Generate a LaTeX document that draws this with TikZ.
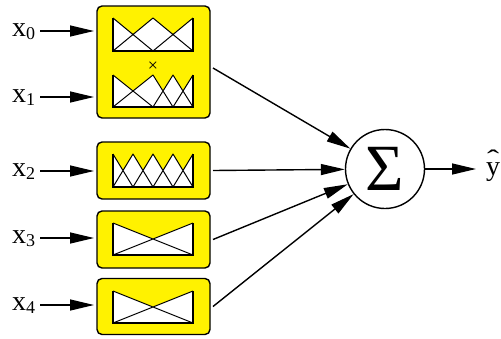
\documentclass[tikz,border=0pt]{standalone}
\usepackage{fontspec}
\setmainfont{Liberation Serif}
\usetikzlibrary{arrows.meta,calc}
\begin{document}
\begin{tikzpicture}[x=1pt,y=-1pt,
  box/.style={draw=black, line width=1.4pt, fill=yellow, rounded corners=5pt, minimum width=113pt, inner sep=0pt, outer sep=0pt},
  arr/.style={line width=1.4pt, -{Triangle[length=24pt,width=11pt]}},
  lab/.style={font=\fontsize{28}{28}\selectfont, inner sep=0pt, anchor=base west},
  mf/.style={line width=1pt, line join=round},
  frame/.style={line width=1.5pt},
  panel/.style={fill=white},
  sumnode/.style={draw, circle, line width=1.4pt, minimum size=79pt, inner sep=0pt, fill=white}
  ]
\useasboundingbox (0,0) rectangle (501,338);
% boxes
\node[box, minimum height=112pt] (bA) at (153.5,62) {};
\node[box, minimum height=57pt] (bB) at (153.5,170.5) {};
\node[box, minimum height=57pt] (bC) at (153.5,239.5) {};
\node[box, minimum height=56pt] (bD) at (153.5,306.5) {};
% panel A top
\fill[panel] (113,51)--(113,18)--(133,34.5)--(153,18)--(173,34.5)--(193,18)--(193,51)--cycle;
\draw[mf] (113,18)--(153,51) (113,51)--(153,18)--(193,51) (153,51)--(193,18);
\draw[frame] (113,18)--(113,51)--(193,51)--(193,18);
% panel A bottom
\fill[panel] (113,107)--(113,75)--(133,91)--(153,75)--(163,91)--(173,75)--(183,91)--(193,75)--(193,107)--cycle;
\draw[mf] (113,75)--(153,107) (113,107)--(153,75)--(173,107) (153,107)--(173,75)--(193,107) (173,107)--(193,75);
\draw[frame] (113,75)--(113,107)--(193,107)--(193,75);
\node[inner sep=0pt, font=\fontsize{18}{18}\selectfont] (cross) at (153,67) {×};
% panel B
\fill[panel] (113,187)--(113,154)--(123,170.5)--(133,154)--(143,170.5)--(153,154)--(163,170.5)--(173,154)--(183,170.5)--(193,154)--(193,187)--cycle;
\draw[mf] (113,154)--(133,187) (113,187)--(133,154)--(153,187) (133,187)--(153,154)--(173,187) (153,187)--(173,154)--(193,187) (173,187)--(193,154);
\draw[frame] (113,154)--(113,187)--(193,187)--(193,154);
% panel C
\fill[panel] (113,255)--(113,223)--(153,239)--(193,223)--(193,255)--cycle;
\draw[mf] (113,223)--(193,255) (113,255)--(193,223);
\draw[frame] (113,223)--(113,255)--(193,255)--(193,223);
% panel D
\fill[panel] (113,323)--(113,291)--(153,307)--(193,291)--(193,323)--cycle;
\draw[mf] (113,291)--(193,323) (113,323)--(193,291);
\draw[frame] (113,291)--(113,323)--(193,323)--(193,291);
% sum
\node[sumnode] (sum) at (385,169) {\fontsize{66}{66}\selectfont Σ};
% labels
\node[lab] (x0) at (12,36) {x\raisebox{-3pt}{\fontsize{18}{18}\selectfont 0}};
\node[lab] (x1) at (12,102) {x\raisebox{-3pt}{\fontsize{18}{18}\selectfont 1}};
\node[lab] (x2) at (12,176) {x\raisebox{-3pt}{\fontsize{18}{18}\selectfont 2}};
\node[lab] (x3) at (12,243) {x\raisebox{-3pt}{\fontsize{18}{18}\selectfont 3}};
\node[lab] (x4) at (12,310) {x\raisebox{-3pt}{\fontsize{18}{18}\selectfont 4}};
\node[lab] (yh) at (486,175) {\ooalign{y\cr\hidewidth\raisebox{8pt}{\scalebox{1.3}[0.9]{ˆ}}\hidewidth\cr}};
% input arrows
\draw[arr,shorten >=3pt] ($(x0.base east)+(5,-5)$) -- ($(bA.west|-x0.base)+(0,-5)$);
\draw[arr,shorten >=3pt] ($(x1.base east)+(5,-5)$) -- ($(bA.west|-x1.base)+(0,-5)$);
\draw[arr,shorten >=3pt] ($(x2.base east)+(5,-5)$) -- ($(bB.west|-x2.base)+(0,-5)$);
\draw[arr,shorten >=3pt] ($(x3.base east)+(5,-5)$) -- ($(bC.west|-x3.base)+(0,-5)$);
\draw[arr,shorten >=3pt] ($(x4.base east)+(5,-5)$) -- ($(bD.west|-x4.base)+(0,-5)$);
% to sum
\draw[arr] ($(bA.east)+(3,6)$) -- (sum);
\draw[arr] ($(bB.east)+(3,0)$) -- (sum);
\draw[arr] ($(bC.east)+(3,0)$) -- (sum);
\draw[arr] ($(bD.east)+(3,0)$) -- (sum);
% output
\draw[arr,shorten >=10pt] (sum.east) -- (sum.east -| yh.west);
\end{tikzpicture}
\end{document}
